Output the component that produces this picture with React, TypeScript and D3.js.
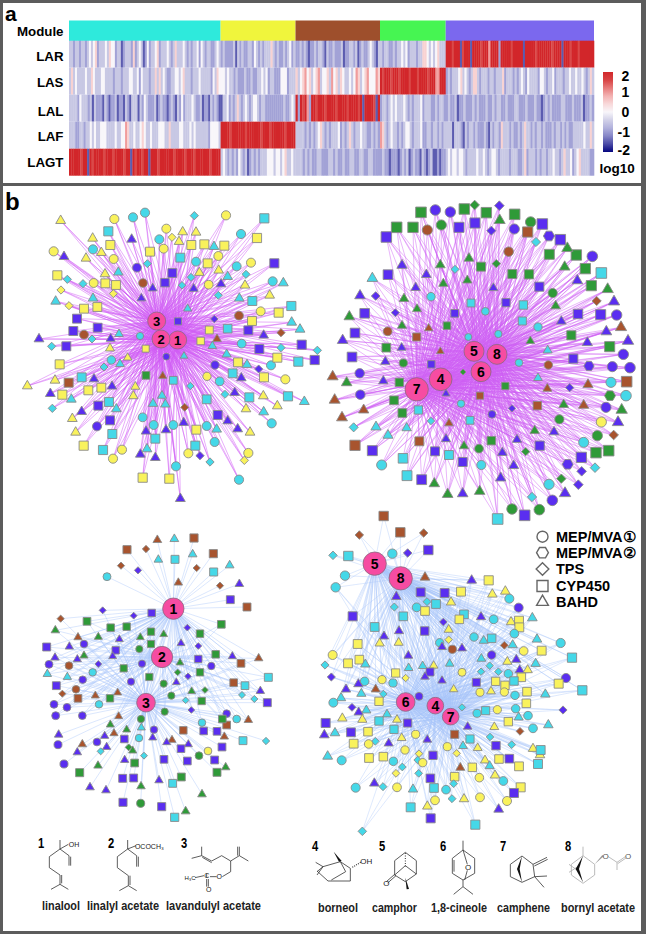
import React from "react";
import * as d3 from "d3";

// ---------- panel a: heatmap ----------
const moduleColors = ["#2eeadc", "#f0f53c", "#9e4f2c", "#46f552", "#7b68ee"];
const moduleEdges = [69, 220.6, 295.5, 380, 445.7, 594];
const tissueLabels = ["LAR", "LAS", "LAL", "LAF", "LAGT"];
// one digit per stripe, per module; 0..8 stands for -2..2 in steps of 0.5
const rowLAR = [
  "3323323323434523334354423312333252343124233452333432353334323233424323322343",
  "232222313232233243232333532322323423",
  "22323212232332132232223122332312322343213",
  "3233223233434233323355434345333",
  "8887888178881888878886888828888878888818888878888888788881888788878888888",
];
const rowLAS = [
  "3534333343354333443333233323334433424333233535343223344345333233343333324354",
  "44343323222322322334342332224442333",
  "53456453456344536453543343465345644465",
  "87888788878888788878888788866888",
  "23233345343235532333233233352333232343243333244323342333233433433432353",
];
const rowLAL = [
  "3333243332313222132122312213213331324322231232212321324233343223122132321",
  "1334232353234323443233222222222322343",
  "82878628878887888878888788887818888718",
  "2332343433343232333423332232332",
  "2322312232223232223223233223222332223222322123232222332223222312232",
];
const rowLAF = [
  "3332233233434334443333433446533433454334333444335333344333434333333244443",
  "8888788888878888887888788888878888",
  "33332323234532323334232353233433223232",
  "6532343323234432333422332332323",
  "3331333213233232223213233253332322323533232332322232332323223333343353",
];
const rowLAGT = [
  "8888878818788887888788887881878878818887888888788887888788888878888",
  "3432323243231232323334443443453343",
  "333232322332223323223223322332233222",
  "232212221232312322132123112122",
  "34344344323333433432344323333233322352333232332334332353342345333322",
];
const heatRows = [rowLAR, rowLAS, rowLAL, rowLAF, rowLAGT];
const colorbarTicks = [2, 1, 0, -1, -2];

// ---------- panel b: networks (positions, 3x pixel units) ----------
type N = [number, number, string];
const net1Hubs: [string, number, number, number][] = [["1", 533, 450, 27], ["2", 483, 447, 27], ["3", 470, 393, 27]];
const net1: N[] = [
[182,92,"yT"],[278,145,"yT"],[258,205,"yT"],[304,188,"yT"],[315,252,"yT"],[548,126,"yT"],[588,127,"yT"],[537,155,"yT"],[598,248,"yT"],[656,241,"yT"],[735,286,"yT"],[809,316,"yT"],[790,618,"yT"],[832,648,"yT"],[738,657,"yT"],[165,571,"yT"],[82,588,"yT"],[217,686,"yT"],[227,727,"yT"],[406,590,"yT"],[400,618,"yT"],[383,503,"yT"],[330,475,"yT"],[750,727,"yT"],
[399,82,"cO"],[435,68,"cO"],[478,148,"cO"],[279,178,"cO"],[723,132,"cO"],[588,215,"cO"],[710,229,"cO"],[818,274,"cO"],[420,438,"cO"],[725,461,"cO"],[813,526,"cO"],[334,510,"cO"],[659,574,"cO"],[428,682,"cO"],[461,705,"cO"],[520,705,"cO"],[620,708,"cO"],[644,756,"cO"],[528,829,"cO"],[717,869,"cO"],[815,700,"cO"],
[343,87,"yO"],[499,116,"yO"],[491,176,"yO"],[678,76,"yO"],[161,184,"yO"],[341,207,"yO"],[655,198,"yO"],[753,218,"yO"],[281,279,"yO"],[626,284,"yO"],[782,364,"yO"],[856,568,"yO"],[621,559,"yO"],[366,779,"yO"],[339,806,"yO"],[565,790,"yO"],[745,789,"yO"],
[793,85,"cS"],[325,124,"cS"],[541,203,"cS"],[757,333,"cS"],[683,416,"cS"],[895,515,"cS"],[864,619,"cS"],[748,622,"cS"],[698,550,"cS"],[245,562,"cS"],[327,636,"cS"],[337,732,"cS"],[309,780,"cS"],[466,746,"cS"],[586,767,"cS"],[620,628,"cS"],[520,571,"cS"],[874,348,"cS"],
[771,144,"yS"],[331,165,"yS"],[450,185,"yS"],[574,165,"yS"],[613,163,"yS"],[673,167,"yS"],[623,220,"yS"],[172,256,"yS"],[316,280,"yS"],[348,285,"yS"],[252,356,"yS"],[292,351,"yS"],[836,368,"yS"],[756,393,"yS"],[628,420,"yS"],[602,453,"yS"],[437,476,"yS"],[179,523,"yS"],[714,517,"yS"],[832,503,"yS"],[792,562,"yS"],[187,614,"yS"],[265,601,"yS"],[304,593,"yS"],[251,767,"yS"],[589,719,"yS"],[428,863,"yS"],[508,866,"yS"],
[823,220,"bS"],[517,249,"bS"],[495,278,"bS"],[231,386,"bS"],[220,423,"bS"],[293,413,"bS"],[199,469,"bS"],[534,394,"bS"],[745,421,"bS"],[778,477,"bS"],[905,464,"bS"],[944,510,"bS"],[295,647,"bS"],[330,691,"bS"],[653,675,"bS"],
[395,148,"bT"],[192,200,"bT"],[458,295,"bT"],[424,325,"bT"],[581,296,"bT"],[663,282,"bT"],[332,446,"bT"],[117,447,"bT"],[791,436,"bT"],[724,564,"bT"],[282,567,"bT"],[336,589,"bT"],[151,611,"bT"],[245,665,"bT"],[704,608,"bT"],[683,693,"bT"],[713,717,"bT"],[551,698,"bT"],[498,720,"bT"],[438,724,"bT"],[421,793,"bT"],[466,803,"bT"],[541,926,"bT"],
[411,233,"bO"],[645,525,"bO"],[499,500,"bO"],[291,709,"bO"],[643,387,"bD"],[776,537,"bD"],[600,797,"bD"],
[642,170,"cT"],[355,247,"cT"],[683,260,"cT"],[850,279,"cT"],[279,325,"cT"],[167,334,"cT"],[718,325,"cT"],[563,356,"cT"],[875,397,"cT"],[900,418,"cT"],[357,432,"cT"],[637,468,"cT"],[680,493,"cT"],[741,524,"cT"],[552,498,"cT"],[360,522,"cT"],[214,628,"cT"],[349,657,"cT"],[459,641,"cT"],[486,617,"cT"],[496,643,"cT"],[650,718,"cT"],[791,666,"cT"],[913,635,"cT"],[441,777,"cT"],
[583,77,"cD"],[442,221,"cD"],[202,268,"cD"],[249,281,"cD"],[573,262,"cD"],[546,286,"cD"],[738,253,"cD"],[655,316,"cD"],[276,447,"cD"],[155,469,"cD"],[843,473,"cD"],[952,481,"cD"],[312,531,"cD"],[571,588,"cD"],[675,613,"cD"],[157,655,"cD"],[630,816,"cD"],
[516,142,"yD"],[183,300,"yD"],[340,311,"yD"],[207,347,"yD"],[733,811,"yD"],
[429,279,"rO"],[717,377,"rO"],[252,434,"rO"],[206,578,"rS"],[651,447,"rT"],[488,558,"rT"],[843,428,"rD"],[554,652,"rD"],[438,556,"gS"],
];

const net2Hubs: [string, number, number, number][] = [["5", 453, 484, 30], ["8", 522, 493, 30], ["6", 474, 545, 30], ["4", 353, 568, 34], ["7", 281, 598, 35]];
const net2: N[] = [
[294,67,"gS"],[424,57,"gS"],[490,68,"gS"],[575,73,"gS"],[221,112,"gS"],[270,112,"gS"],[679,193,"gS"],[760,195,"gS"],[787,236,"gS"],[805,287,"gS"],[474,230,"gS"],[568,252,"gS"],[618,253,"gS"],[372,407,"gS"],[745,436,"gS"],[190,473,"gS"],[860,470,"gS"],[229,577,"gS"],[213,631,"gS"],[238,669,"gS"],[547,588,"gS"],[505,752,"gS"],[819,788,"gS"],[857,782,"gS"],
[455,45,"gD"],[520,221,"gD"],[420,546,"gD"],[608,785,"gD"],[715,866,"gD"],
[355,105,"gO"],[623,96,"gO"],[689,309,"gO"],[241,519,"gO"],[709,688,"gO"],[823,737,"gO"],[468,776,"gO"],[567,957,"gO"],[649,959,"gO"],[861,617,"gH"],
[530,91,"gT"],[733,175,"gT"],[725,231,"gT"],[438,205,"gT"],[352,225,"gT"],[854,298,"gT"],[361,281,"gT"],[433,271,"gT"],[243,326,"gT"],[698,348,"gT"],[282,357,"gT"],[79,380,"gT"],[237,407,"gT"],[622,453,"gT"],[71,578,"gT"],[722,644,"gT"],[896,660,"gT"],[635,722,"gT"],[423,768,"gT"],[334,881,"gT"],[374,913,"gT"],[470,904,"gT"],
[337,60,"bO"],[382,66,"bO"],[574,117,"bO"],[678,138,"bH"],[808,199,"bO"],[881,375,"bO"],[901,493,"bO"],[868,530,"bO"],[921,533,"bO"],[798,528,"bH"],[110,550,"bO"],[112,614,"bO"],[849,652,"bO"],[507,673,"bO"],[688,931,"bO"],[734,823,"bH"],
[408,112,"bS"],[456,99,"bS"],[658,102,"bS"],[190,141,"bS"],[712,149,"bS"],[195,254,"bS"],[649,290,"bS"],[549,338,"bS"],[395,370,"bS"],[765,372,"bS"],[833,374,"bS"],[125,370,"bS"],[96,429,"bS"],[87,501,"bS"],[751,506,"bS"],[325,523,"bS"],[650,767,"bS"],[148,782,"bS"],[336,784,"bS"],[419,816,"bS"],[775,802,"bS"],[296,869,"bS"],[605,976,"bS"],
[529,47,"bD"],[505,122,"bD"],[158,318,"bD"],[217,368,"bD"],[740,593,"bD"],[567,655,"bD"],[776,844,"bD"],[766,884,"bD"],
[237,226,"bT"],[310,254,"bT"],[763,272,"bT"],[278,293,"bT"],[511,294,"bT"],[111,317,"bT"],[873,335,"bT"],[715,394,"bT"],[850,425,"bT"],[59,451,"bT"],[793,458,"bT"],[915,453,"bT"],[236,473,"bT"],[187,515,"bT"],[181,573,"bT"],[369,611,"bT"],[885,697,"bT"],[693,726,"bT"],[369,747,"bT"],[582,749,"bT"],[538,788,"bT"],[572,827,"bT"],[533,864,"bT"],[726,910,"bT"],[419,911,"bT"],
[313,120,"rO"],[557,185,"rO"],[194,424,"rO"],[676,525,"rO"],[614,126,"rS"],[281,441,"rS"],[911,575,"rS"],[471,617,"rS"],[643,647,"rS"],[96,766,"rS"],[289,754,"rS"],
[317,415,"rT"],[894,412,"rT"],[352,484,"rT"],[29,560,"rT"],[795,584,"rT"],[673,596,"rT"],[35,630,"rT"],[122,660,"rT"],[57,683,"rT"],[782,646,"rT"],[378,700,"rT"],[821,333,"rD"],[872,735,"rD"],
[835,249,"cS"],[444,339,"cS"],[601,345,"cS"],[598,393,"cS"],[286,660,"cS"],[441,691,"cS"],[378,795,"cS"],[240,805,"cS"],[252,857,"cS"],[524,987,"cS"],
[639,156,"cD"],[396,238,"cD"],[324,693,"cD"],[92,712,"cD"],[627,921,"cD"],[816,833,"cD"],
[324,320,"cO"],[487,364,"cO"],[645,411,"cO"],[436,441,"cO"],[526,432,"cO"],[588,518,"cO"],[864,577,"cO"],[909,617,"cO"],[414,641,"cO"],[782,757,"cO"],[176,825,"cO"],[475,825,"cO"],[678,883,"cO"],
[148,265,"cT"],[674,481,"cT"],[645,564,"cT"],[159,711,"cT"],[251,714,"cT"],[195,736,"cT"],[835,696,"yO"],
];

const net3Hubs: [string, number, number, number][] = [["1", 520, 296, 32], ["2", 486, 441, 32], ["3", 438, 578, 28]];
const net3: N[] = [
[381,119,"rS"],[582,84,"rS"],[640,131,"rS"],[741,291,"rS"],[472,90,"rT"],[535,218,"rT"],[438,117,"rD"],[363,167,"rD"],[590,174,"rD"],[660,227,"rD"],
[523,87,"cT"],[475,149,"cT"],[578,133,"cT"],[689,166,"cT"],[525,148,"cS"],[641,186,"cS"],[321,200,"cO"],[414,181,"bD"],[718,222,"bT"],[691,269,"bS"],
[308,301,"bD"],[401,317,"bD"],[455,309,"bS"],[182,326,"rD"],[261,334,"gS"],[332,353,"gS"],[380,350,"gS"],[664,343,"gS"],[453,365,"gS"],[166,361,"gT"],[234,382,"rT"],[295,381,"gT"],[358,388,"bT"],[421,382,"gT"],[491,373,"gT"],[562,353,"bD"],[600,371,"gS"],[252,402,"bO"],[140,411,"bS"],[208,410,"bT"],[347,421,"bS"],[418,417,"gO"],[453,402,"gS"],[543,400,"bT"],[595,408,"bD"],[647,433,"gS"],[697,439,"bT"],[776,445,"rT"],[165,443,"bT"],[252,437,"gT"],[338,439,"bT"],[232,448,"bT"],[147,463,"bO"],[295,462,"bD"],[426,461,"bO"],[595,447,"bS"],[540,458,"gT"],[634,468,"bO"],[723,460,"rS"],[207,467,"rO"],[371,475,"gS"],[142,492,"cT"],[202,501,"cT"],[278,487,"cO"],[533,487,"gD"],[564,499,"bD"],[600,487,"gS"],[805,502,"cS"],[448,501,"gS"],[248,509,"bO"],[393,515,"bO"],[491,521,"gO"],[529,517,"bT"],[701,518,"rS"],[735,527,"cS"],[169,527,"bS"],[228,538,"rO"],[187,551,"rD"],[286,557,"rT"],[353,548,"rT"],[575,544,"gT"],[615,540,"gD"],[726,555,"cD"],[781,543,"bT"],[514,557,"gO"],[234,565,"rS"],[330,565,"gS"],[557,571,"cD"],[605,573,"gS"],[763,567,"cD"],[162,583,"bO"],[201,592,"bO"],[297,583,"cO"],[802,578,"bS"],[574,600,"bD"],[494,605,"gO"],[167,617,"bO"],[247,617,"bO"],[356,619,"rT"],[680,611,"bO"],[680,645,"rS"],[667,627,"gS"],[710,627,"cO"],[745,630,"rT"],[423,627,"gO"],[331,644,"gT"],[606,638,"cO"],[380,659,"gT"],[424,653,"cT"],[462,659,"bO"],[550,661,"rS"],[611,663,"bS"],[651,664,"bS"],[176,674,"bT"],[342,670,"rT"],[314,678,"bT"],[373,687,"bS"],[417,684,"cO"],[458,683,"bT"],[516,690,"rT"],[673,680,"rT"],[729,692,"cS"],[798,693,"cD"],[174,704,"bO"],[291,696,"bO"],[247,703,"rT"],[500,697,"bT"],[565,703,"bT"],[232,727,"bT"],[302,724,"cD"],[320,711,"bT"],[386,712,"gD"],[398,722,"gT"],[543,716,"bS"],[666,711,"bS"],[624,723,"yO"],[597,737,"gO"],[432,737,"cD"],[192,762,"bO"],[294,767,"gT"],[374,750,"bT"],[404,759,"gS"],[492,748,"bS"],[562,753,"bS"],[644,750,"bS"],[239,788,"gS"],[677,772,"gT"],[651,787,"gS"],[368,805,"bS"],[401,804,"bS"],[477,811,"bT"],[544,801,"gS"],[518,820,"cS"],[270,832,"bT"],[318,841,"bT"],[423,829,"gT"],[606,853,"gT"],[369,877,"bS"],[422,880,"gO"],[485,890,"bS"],[557,904,"gT"],[524,922,"cS"],
];

const net4Hubs: [string, number, number, number][] = [["5", 194, 191, 35], ["8", 272, 235, 35], ["6", 287, 606, 28], ["4", 376, 617, 25], ["7", 422, 650, 25]];
const net4: N[] = [
[221,48,"rS"],[271,97,"rS"],[148,105,"rD"],[341,99,"rD"],[355,150,"bS"],[293,159,"bD"],[247,161,"cO"],[69,166,"cD"],[115,168,"cS"],[105,227,"cO"],[77,262,"cO"],[345,232,"rT"],
[485,241,"bT"],[536,241,"yS"],[332,277,"bS"],[404,279,"bS"],[453,275,"yS"],[547,283,"yT"],[586,274,"yT"],[598,296,"cO"],[259,290,"bT"],[351,305,"cD"],[378,312,"cS"],[423,307,"yT"],[626,323,"bO"],[253,321,"cD"],[320,322,"cO"],[345,333,"yS"],[128,349,"bS"],[280,349,"cS"],[462,343,"cS"],[513,351,"bT"],[551,358,"cO"],[667,354,"cT"],[448,358,"yS"],[400,366,"bD"],[603,366,"yT"],[627,362,"yS"],[628,382,"yS"],[194,381,"cS"],[267,393,"bT"],[344,393,"bS"],[416,389,"yT"],[613,401,"cO"],[222,409,"bT"],[209,430,"yT"],[266,428,"yT"],[143,432,"yS"],[416,419,"yD"],[389,428,"cO"],[492,411,"cO"],[521,422,"cT"],[545,415,"cS"],[681,418,"cT"],[752,429,"cO"],[583,436,"rD"],[608,435,"cT"],[396,441,"bT"],[427,448,"rO"],[456,445,"bT"],[641,453,"yO"],[695,452,"yS"],[786,473,"cS"],[68,465,"yO"],[295,467,"bT"],[514,476,"cT"],[545,465,"bO"],[619,479,"bT"],[148,479,"yS"],[114,490,"yS"],[166,493,"cT"],[45,495,"cD"],[296,504,"cT"],[338,498,"cT"],[371,497,"yT"],[419,491,"cT"],[592,485,"yT"],[677,491,"cT"],[257,519,"yS"],[360,516,"bS"],[456,517,"yO"],[513,515,"cD"],[539,497,"cD"],[565,515,"cD"],[629,510,"bT"],[653,510,"yT"],[595,521,"cO"],[64,531,"bD"],[287,534,"yD"],[345,530,"bT"],[216,539,"yO"],[164,544,"cO"],[249,549,"cO"],[396,542,"bT"],[499,547,"bS"],[557,544,"yS"],[585,556,"yS"],[634,532,"yS"],[612,543,"cS"],[768,534,"bO"],[746,551,"yS"],[145,552,"bT"],[108,568,"bT"],[197,568,"rT"],[431,568,"yT"],[510,577,"yO"],[543,574,"yT"],[583,576,"yO"],[651,575,"yS"],[706,583,"cT"],[817,571,"cS"],[154,581,"cT"],[93,594,"cT"],[220,582,"cD"],[327,589,"bO"],[615,586,"cO"],[70,608,"cO"],[207,604,"yS"],[649,610,"yS"],[126,622,"bD"],[169,631,"cT"],[146,637,"bT"],[456,622,"cD"],[527,632,"cS"],[501,640,"cO"],[562,629,"yO"],[617,626,"cO"],[759,630,"bD"],[231,643,"cT"],[626,652,"cT"],[654,647,"cO"],[97,655,"yT"],[157,659,"yT"],[261,659,"yT"],[207,663,"cS"],[47,669,"bS"],[595,665,"yS"],[293,669,"bS"],[715,675,"cT"],[669,685,"cO"],[553,681,"yT"],[473,680,"bT"],[630,694,"rD"],[252,688,"cS"],[123,697,"bS"],[174,695,"yS"],[75,699,"cT"],[43,705,"bT"],[434,703,"rS"],[317,703,"yO"],[275,714,"yT"],[352,719,"bT"],[480,717,"cS"],[540,711,"cD"],[196,724,"cD"],[131,731,"yS"],[176,732,"yO"],[236,730,"bT"],[558,737,"bS"],[605,734,"cD"],[459,738,"cT"],[412,740,"yO"],[503,744,"yT"],[669,746,"yT"],[690,765,"yT"],[692,750,"cS"],[285,750,"yO"],[327,761,"yD"],[440,760,"yD"],[369,766,"bS"],[53,769,"cT"],[95,781,"cO"],[177,774,"yS"],[220,770,"yS"],[323,780,"cD"],[567,777,"yS"],[598,776,"bS"],[525,781,"yT"],[250,784,"cO"],[338,788,"yO"],[487,802,"yS"],[451,803,"rT"],[539,798,"cT"],[684,792,"cS"],[627,799,"yS"],[277,801,"cD"],[258,820,"yD"],[326,820,"cD"],[361,835,"bS"],[434,830,"yS"],[508,833,"yO"],[555,826,"yT"],[580,843,"cO"],[193,850,"bT"],[431,851,"cD"],[137,863,"cO"],[219,860,"cD"],[261,862,"yO"],[372,864,"cS"],[309,868,"cT"],[408,869,"cO"],[632,862,"yS"],[612,879,"bS"],[375,901,"yO"],[426,896,"cD"],[462,897,"yT"],[510,892,"yO"],[591,903,"yO"],[352,919,"yT"],[302,922,"cS"],[566,928,"bT"],[362,955,"bS"],[496,974,"cS"],[157,994,"cD"],
];

const nodeColors: Record<string, string> = { y: "#f9f25c", c: "#45d8e8", b: "#5a2ef0", g: "#2f9a38", r: "#a8542e" };

// which hubs each band of a network links to (band ends at maxY, in 3x units)
type Band = { maxY: number; hubs: string[] };
const net1Bands: Band[] = [{ maxY: 9999, hubs: ["1", "2", "3"] }];
const net2Bands: Band[] = [{ maxY: 9999, hubs: ["5", "8", "6", "4", "7"] }];
const net3Bands: Band[] = [
  { maxY: 295, hubs: ["1"] },
  { maxY: 330, hubs: ["1", "3"] },
  { maxY: 660, hubs: ["1", "2", "3"] },
  { maxY: 9999, hubs: ["3"] },
];
const net4Bands: Band[] = [
  { maxY: 240, hubs: ["5", "8"] },
  { maxY: 600, hubs: ["5", "8", "6", "4", "7"] },
  { maxY: 9999, hubs: ["6", "4", "7"] },
];

const networks = [
  { nodes: net1, hubs: net1Hubs, bands: net1Bands, ox: 0, oy: 190, edge: "#d05cf4", edgeOp: 0.55, edgeW: 0.9, cx: 500, cy: 450, sizeDomain: [50, 200, 420], sizeRange: [6.8, 8.8, 9.2], hubFont: 13 },
  { nodes: net2, hubs: net2Hubs, bands: net2Bands, ox: 323, oy: 190, edge: "#cf60f5", edgeOp: 0.5, edgeW: 0.9, cx: 450, cy: 520, sizeDomain: [50, 250, 470], sizeRange: [6.6, 8.6, 10.6], hubFont: 14 },
  { nodes: net3, hubs: net3Hubs, bands: net3Bands, ox: 0, oy: 510, edge: "#a8c4fb", edgeOp: 0.55, edgeW: 0.75, cx: 470, cy: 500, sizeDomain: [100, 420], sizeRange: [7.2, 8.2], hubFont: 14 },
  { nodes: net4, hubs: net4Hubs, bands: net4Bands, ox: 310, oy: 500, edge: "#a8c4fb", edgeOp: 0.5, edgeW: 0.75, cx: 400, cy: 600, sizeDomain: [50, 450], sizeRange: [7.8, 9.4], hubFont: 14 },
];

const legendItems: [string, string][] = [["O", "MEP/MVA①"], ["H", "MEP/MVA②"], ["D", "TPS"], ["S", "CYP450"], ["T", "BAHD"]];

const compoundNames: [string, number, number, number][] = [
  ["linalool", 61, 905, 38], ["linalyl acetate", 123, 905, 72], ["lavandulyl acetate", 213.5, 905, 95],
  ["borneol", 338, 907, 40], ["camphor", 394.5, 907, 45], ["1,8-cineole", 459, 907, 56], ["camphene", 523.5, 907, 53], ["bornyl acetate", 598, 907, 74],
];
const compoundNumbers: [string, number, number][] = [
  ["1", 41, 843], ["2", 111, 843], ["3", 184, 843], ["4", 315, 845.5], ["5", 382, 845.5], ["6", 443, 845.5], ["7", 503, 845.5], ["8", 568, 845.5],
];

// skeletal formulas, 3x units of the crops: left block offset (0,825), right block (323,825)
const bondsLeft = [
  [180,45,180,72],[180,72,205,58],[180,72,148,95],[148,95,148,128],[148,128,180,150],[180,150,180,178],[185,150,185,175],[180,178,153,193],[180,178,205,193],[180,72,207,92],[207,92,207,122],[212,95,212,122],
  [383,45,383,72],[383,72,408,62],[383,72,352,95],[352,95,352,128],[352,128,385,152],[385,152,385,182],[390,152,390,180],[385,182,358,197],[385,182,410,197],[383,72,410,92],[410,92,410,125],[415,95,415,125],
  [605,65,605,92],[605,92,575,100],[605,92,635,108],[607,97,635,113],[635,108,665,92],[665,92,692,108],[692,108,718,92],[718,92,718,65],[713,92,713,65],[718,92,745,108],[692,108,692,140],[692,140,667,155],[650,155,630,155],[585,158,612,152],[620,162,620,185],[625,162,625,185],[620,145,620,158],
];
const bondsRight = [
  [52,110,82,130],[82,130,82,168],[82,168,15,168],[15,168,-18,138],[52,110,0,125],[0,125,-18,140],[52,110,68,140],[68,140,25,165],[0,125,-22,112],[0,125,-18,150],
  [247,82,280,107],[280,107,280,147],[280,147,247,170],[247,170,215,150],[215,150,215,107],[215,107,247,82],[215,150,247,122],[247,122,280,147],[215,148,190,170],[219,152,194,174],
  [420,47,420,75],[420,75,455,100],[455,100,455,145],[455,145,420,165],[420,165,388,145],[388,145,388,100],[388,100,420,75],[393,140,393,105],[420,75,433,118],[433,136,425,165],[420,165,420,185],[420,185,392,208],[420,185,450,208],
  [597,93,630,118],[630,118,635,155],[635,155,597,172],[597,172,562,155],[562,155,562,118],[562,118,597,93],[630,118,672,97],[634,123,674,103],[635,155,672,153],[635,155,663,187],
];
const bondsGrey = [
  [780,92,815,118],[815,118,815,150],[815,150,780,175],[780,175,745,150],[745,150,745,118],[745,118,780,92],[780,65,780,92],[738,118,772,142],[738,142,772,120],[856,95,882,112],[882,112,907,95],[884,116,909,99],[882,112,882,135],
];
const wedges = [
  "32,80 48,110 56,108",
  "247,158 251,193 258,192",
  "597,93 582,132 597,172 590,132",
  "780,92 758,132 780,172 768,132",
];
const greyWedge = "815,118 842,94 838,90";
const atomLabels: [string, number, number, number, string, string][] = [
  ["OH", 222, 57, 7, "L", "#222"], ["OCOCH₃", 448, 63, 7, "L", "#222"], ["O", 658, 155, 7, "L", "#222"], ["C", 620, 152, 7, "L", "#222"], ["O", 626, 193, 7, "L", "#222"], ["H₃C", 570, 160, 6, "L", "#222"],
  ["OH", 130, 107, 8, "R", "#222"], ["O", 190, 174, 8, "R", "#222"], ["O", 435, 127, 8, "R", "#222"], ["O", 848, 92, 8, "R", "#555"], ["O", 915, 92, 8, "R", "#555"],
];

const font = "'Liberation Sans', Arial, sans-serif";
const edgeGrey = "#5c5c5c";

function nodePath(shape: string, s: number): string {
  if (shape === "O") return d3.symbol().type(d3.symbolCircle).size((Math.PI * s * s) / 4)()!;
  if (shape === "S") return d3.symbol().type(d3.symbolSquare).size(s * s)()!;
  if (shape === "D") return d3.symbol().type(d3.symbolDiamond2).size((s * s) / 2 * 1.05)()!;
  if (shape === "T") return d3.symbol().type(d3.symbolTriangle).size(Math.sqrt(3) / 4 * s * s * 1.15)()!;
  const r = s / 2 * 1.08;
  const pts = d3.range(6).map((i) => [r * Math.cos((i * Math.PI) / 3), r * Math.sin((i * Math.PI) / 3)] as [number, number]);
  return d3.line()(pts)! + "Z";
}

function Heatmap() {
  const yRow = d3.scaleBand<number>().domain(d3.range(5)).range([40.7, 175.7]);
  const color = d3.scaleLinear<string>()
    .domain([-2, -1.5, -1, -0.5, 0, 0.5, 1, 1.5, 2])
    .range(["#05057f", "#5c5cb0", "#a2a2d6", "#c8c8e4", "#f8f6fa", "#f8d2d2", "#f09c9c", "#da4a4a", "#d2282b"]);
  const cb = d3.scaleLinear().domain([2, -2]).range([72, 152]);
  return (
    <g>
      {moduleColors.map((c, m) => (
        <rect key={m} x={moduleEdges[m]} y={20.5} width={moduleEdges[m + 1] - moduleEdges[m]} height={20.5} fill={c} />
      ))}
      <g filter="url(#soft)">
        {heatRows.map((row, r) =>
          row.map((str, m) => {
            const x = d3.scaleBand<number>().domain(d3.range(str.length)).range([moduleEdges[m], moduleEdges[m + 1]]);
            return str.split("").map((ch, i) => (
              <rect key={`${r}-${m}-${i}`} x={x(i)} y={yRow(r)} width={x.bandwidth() + 0.3} height={yRow.bandwidth()} fill={color((+ch - 4) / 2)} />
            ));
          })
        )}
      </g>
      {["Module", ...tissueLabels].map((t, i) => (
        <text key={t} x={63.5} y={[31.7, 56.7, 82.7, 111, 136.7, 162.7][i]} dy="0.36em" textAnchor="end" fontFamily={font} fontWeight="bold" fontSize={13.3}>{t}</text>
      ))}
      <defs>
        <linearGradient id="cbg" x1="0" y1="0" x2="0" y2="1">
          {d3.range(0, 1.001, 0.1).map((t) => (
            <stop key={t} offset={t} stopColor={color(2 - 4 * t)} />
          ))}
        </linearGradient>
      </defs>
      <rect x={603} y={72} width={10} height={80} fill="url(#cbg)" />
      {colorbarTicks.map((v) => (
        <text key={v} x={v < 0 ? 617.5 : 621.5} y={cb(v)! + (v === 2 ? 4 : v === -2 ? -2 : 0)} dy="0.36em" fontFamily={font} fontWeight="bold" fontSize={14}>{v}</text>
      ))}
      <text x={599.5} y={168} dy="0.36em" fontFamily={font} fontWeight="bold" fontSize={13.5}>log10</text>
    </g>
  );
}

function Network({ n }: { n: (typeof networks)[number] }) {
  const sx = d3.scaleLinear().domain([0, 3]).range([n.ox, n.ox + 1]);
  const sy = d3.scaleLinear().domain([0, 3]).range([n.oy, n.oy + 1]);
  const size = d3.scaleLinear().domain(n.sizeDomain).range(n.sizeRange).clamp(true);
  const hubById = new Map(n.hubs.map((h) => [h[0], h]));
  return (
    <g>
      <g stroke={n.edge} strokeOpacity={n.edgeOp} strokeWidth={n.edgeW}>
        {n.nodes.map((d, i) => {
          const band = n.bands.find((b) => d[1] < b.maxY)!;
          return band.hubs.map((id) => {
            const h = hubById.get(id)!;
            return <line key={`${i}-${id}`} x1={sx(d[0])} y1={sy(d[1])} x2={sx(h[1])} y2={sy(h[2])} />;
          });
        })}
      </g>
      <g stroke="#8a8a8a" strokeWidth={0.9}>
        {n.nodes.map((d, i) => (
          <path key={i} transform={`translate(${sx(d[0])},${sy(d[1])})`} d={nodePath(d[2][1], size(Math.hypot(d[0] - n.cx, d[1] - n.cy)))} fill={nodeColors[d[2][0]]} />
        ))}
      </g>
      {n.hubs.map((h) => (
        <g key={h[0]}>
          <circle cx={sx(h[1])} cy={sy(h[2])} r={h[3] / 3} fill="#f64ca2" stroke="#8a6a80" strokeWidth={0.8} />
          <text x={sx(h[1])} y={sy(h[2])} dy="0.36em" textAnchor="middle" fontFamily={font} fontWeight="bold" fontSize={n.hubFont}>{h[0]}</text>
        </g>
      ))}
    </g>
  );
}

function Structures() {
  const lx = (x: number) => x / 3;
  const ly = (y: number) => 825 + y / 3;
  const rx = (x: number) => 323 + x / 3;
  const pts = (s: string) => s.split(" ").map((p) => { const [a, b] = p.split(",").map(Number); return `${rx(a)},${ly(b)}`; }).join(" ");
  return (
    <g>
      <g stroke="#333" strokeWidth={0.8} fill="none">
        {bondsLeft.map((b, i) => <line key={i} x1={lx(b[0])} y1={ly(b[1])} x2={lx(b[2])} y2={ly(b[3])} />)}
        {bondsRight.map((b, i) => <line key={i} x1={rx(b[0])} y1={ly(b[1])} x2={rx(b[2])} y2={ly(b[3])} />)}
      </g>
      <line x1={rx(88)} y1={ly(127)} x2={rx(116)} y2={ly(110)} stroke="#333" strokeWidth={1.2} strokeDasharray="1 1.2" />
      <line x1={rx(247)} y1={ly(84)} x2={rx(247)} y2={ly(125)} stroke="#333" strokeWidth={1} strokeDasharray="1 1.5" />
      <g stroke="#aaa" strokeWidth={0.8}>
        {bondsGrey.map((b, i) => <line key={i} x1={rx(b[0])} y1={ly(b[1])} x2={rx(b[2])} y2={ly(b[3])} />)}
      </g>
      {wedges.map((w, i) => <polygon key={i} points={pts(w)} fill="#111" />)}
      <polygon points={pts(greyWedge)} fill="#999" />
      {atomLabels.map((a, i) => (
        <text key={i} x={a[4] === "L" ? lx(a[1]) : rx(a[1])} y={ly(a[2])} dy="0.36em" textAnchor="middle" fontFamily={font} fontSize={a[3]} fill={a[5]}>{a[0]}</text>
      ))}
      {compoundNumbers.map((c) => (
        <text key={c[0]} x={c[1]} y={c[2]} textAnchor="middle" dy="0.36em" fontFamily={font} fontWeight="bold" fontSize={14} transform={`translate(${c[1]},0) scale(0.8,1) translate(${-c[1]},0)`}>{c[0]}</text>
      ))}
      {compoundNames.map((c) => (
        <text key={c[0]} x={c[1]} y={c[2]} dy="0.36em" textAnchor="middle" fontFamily={font} fontWeight="bold" fontSize={12.5} fill="#222" textLength={c[3]} lengthAdjust="spacingAndGlyphs">{c[0]}</text>
      ))}
    </g>
  );
}

function Legend() {
  return (
    <g>
      {legendItems.map((d, i) => {
        const y = [536.7, 552.7, 569, 586, 602][i];
        return (
          <g key={d[0]}>
            <path transform={`translate(542.5,${y})`} d={nodePath(d[0], d[0] === "D" ? 14 : 11)} fill="none" stroke="#666" strokeWidth={1.4} />
            <text x={556} y={y} dy="0.36em" fontFamily={font} fontWeight="bold" fontSize={14.5}>{d[1]}</text>
          </g>
        );
      })}
    </g>
  );
}

export default function App() {
  return (
    <svg width={646} height={934} viewBox="0 0 646 934" style={{ position: "absolute", left: 0, top: 0, display: "block" }}>
      <defs>
        <filter id="soft" x="-2%" y="-2%" width="104%" height="104%"><feGaussianBlur stdDeviation="0.55 0.2" /></filter>
      </defs>
      <rect width={646} height={934} fill="#fff" />
      <rect x={0} y={0} width={646} height={3} fill={edgeGrey} />
      <rect x={0} y={931} width={646} height={3} fill={edgeGrey} />
      <rect x={0} y={183} width={646} height={3} fill={edgeGrey} />
      <rect x={0} y={0} width={3} height={934} fill={edgeGrey} />
      <rect x={641} y={0} width={5} height={934} fill={edgeGrey} />
      <Heatmap />
      {networks.map((n, i) => <Network key={i} n={n} />)}
      <Legend />
      <Structures />
      <text x={5} y={21} fontFamily={font} fontWeight="bold" fontSize={21}>a</text>
      <text x={5} y={210} fontFamily={font} fontWeight="bold" fontSize={24}>b</text>
    </svg>
  );
}
